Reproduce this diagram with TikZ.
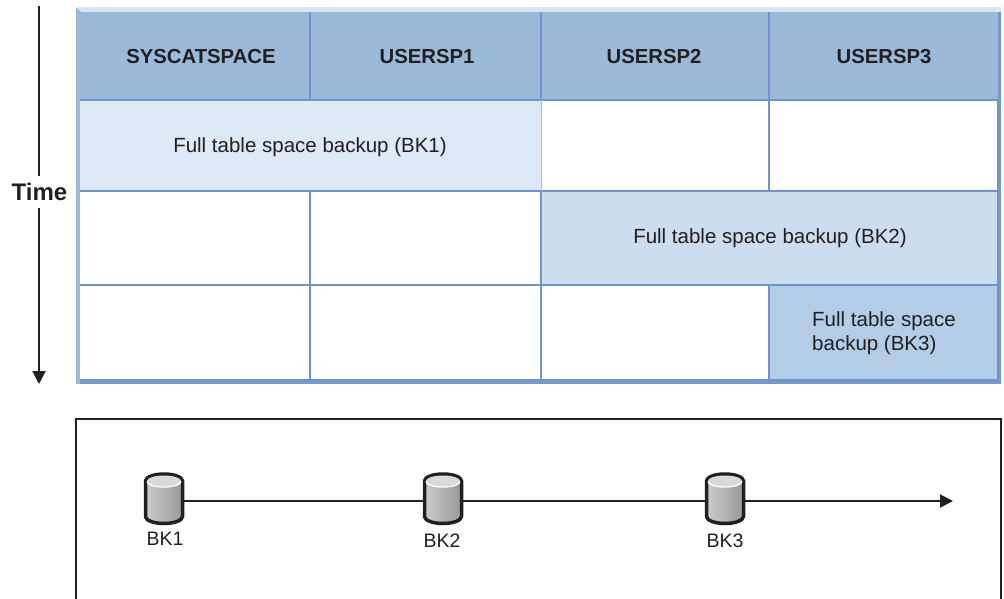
\documentclass[tikz,border=0pt]{standalone}
\usepackage{fontspec}
\setmainfont{Liberation Sans}
\usepackage{tikz}
\usetikzlibrary{arrows.meta}
\definecolor{hdr}{HTML}{9BBAD9}
\definecolor{edge}{HTML}{6F94CC}
\definecolor{bev}{HTML}{D9E6F2}
\definecolor{ink}{HTML}{231F20}
\definecolor{bkone}{HTML}{DDE9F5}
\definecolor{bktwo}{HTML}{CBDDEE}
\definecolor{bkthree}{HTML}{B3CDE6}
\tikzset{
cellline/.style={draw=edge, line width=1.3pt},
celltext/.style={text=ink, font=\fontsize{20.5}{24.5}\selectfont, align=left},
headtext/.style={text=ink, font=\fontsize{20.3}{24}\selectfont\bfseries},
axisline/.style={ink, line width=2pt},
axisarrow/.style={axisline, -{Triangle[length=13pt,width=13pt]}},
disk/.style={minimum width=40pt, minimum height=40pt, inner sep=0pt},
disklabel/.style={text=ink, font=\fontsize{19.5}{24}\selectfont}
}
\begin{document}
\begin{tikzpicture}[x=1pt,y=-1pt]
\useasboundingbox (0,0) rectangle (1004,599);
% table frame and header
\fill[edge!85!hdr] (76,8) rectangle (1001,384);
\fill[hdr] (76,8) rectangle (80,384);
\fill[bev] (76,7) -- (1001,7) -- (1001,12) -- (81,12) -- cycle;
\fill[hdr] (76,12) rectangle (998,100);
\fill[white] (80,100) rectangle (998,380);
% backups
\fill[bkone] (80,100) rectangle (541,191);
\fill[bktwo] (541,191) rectangle (998,285);
\fill[bkthree] (769,285) rectangle (998,380);
% grid lines
\draw[cellline] (80,100) -- (998,100);
\draw[cellline] (80,191) -- (998,191);
\draw[cellline] (80,285) -- (998,285);
\draw[cellline] (80,380) -- (998,380);
\draw[cellline] (998,100) -- (998,380);
\draw[cellline] (310,12) -- (310,100);
\draw[cellline] (310,191) -- (310,380);
\draw[cellline] (541,12) -- (541,100);
\draw[cellline] (541,191) -- (541,380);
\draw[edge!50!bkone, line width=1pt] (541,100) -- (541,191);
\draw[cellline] (769,12) -- (769,191);
\draw[cellline] (769,285) -- (769,380);
\foreach \x/\name/\head in {201/syscat/SYSCATSPACE, 427/usera/USERSP1, 654/userb/USERSP2, 884/userc/USERSP3}{
\node[headtext] (\name) at (\x,57) {\head};
}
\node[celltext] (bkonecell) at (310,147) {Full table space backup (BK1)};
\node[celltext] (bktwocell) at (770,238) {Full table space backup (BK2)};
\node[celltext] (bkthreecell) at (884,333) {Full table space\\backup (BK3)};
% time axis
\node[text=ink, font=\fontsize{24}{28}\selectfont\bfseries] (timelabel) at (39.5,192) {Time};
\coordinate (timetop) at (39,6);
\coordinate (timeabove) at (39,176);
\coordinate (timebelow) at (39,208);
\coordinate (timeend) at (39,384);
\draw[axisline] (timetop) -- (timeabove);
\draw[axisarrow] (timebelow) -- (timeend);
% lower panel
\draw[ink, line width=2pt] (76,599) -- (76,418.5) -- (1001,418.5) -- (1001,599);
\coordinate (lineend) at (953,501);
\foreach \name/\x in {bk1/164, bk2/443, bk3/725}{
\node[disk] (\name) at (\x,501) {};
\draw[ink, line width=3.5pt, line join=round, left color=black!20, right color=black!40] (\x-18.5,481) -- (\x-18.5,516.5) arc (180:360:18.5pt and 7pt) -- (\x+18.5,481) arc (0:180:18.5pt and 7pt) -- cycle;
\fill[black!15] (\x,481) ellipse (17pt and 5.5pt);
\draw[white, line width=1.3pt] (\x-17,481.5) arc (180:360:17pt and 5.5pt);
}
\draw[axisline] (bk1) -- (bk2);
\draw[axisline] (bk2) -- (bk3);
\draw[axisarrow] (bk3) -- (lineend);
\node[disklabel] (bk1label) at (165,539) {BK1};
\node[disklabel] (bk2label) at (442,541) {BK2};
\node[disklabel] (bk3label) at (725,541) {BK3};
\end{tikzpicture}
\end{document}
